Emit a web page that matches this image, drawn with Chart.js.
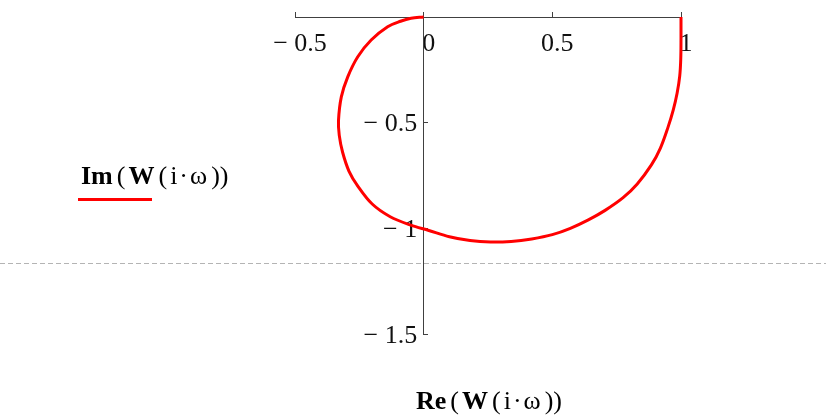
<!DOCTYPE html>
<html>
<head>
<meta charset="utf-8">
<script src="https://cdn.jsdelivr.net/npm/chart.js@4"></script>
<style>
  html, body { margin: 0; padding: 0; background: #fff; }
  #wrap { position: relative; width: 826px; height: 418px; }
  canvas { position: absolute; left: 0; top: 0; }
  .lbl { position: absolute; font-family: "Liberation Serif", serif; font-size: 26px; line-height: 26px; color: #000; white-space: nowrap; }
  .lbl b { font-weight: bold; }
  .lbl .p { margin: 0 3px 0 4px; }
  .lbl .d { margin: 0 2px; }
  #legline { position: absolute; left: 78px; top: 198px; width: 74px; height: 3px; background: #ff0000; }
</style>
</head>
<body>
<div id="wrap">
  <canvas id="c" width="826" height="418"></canvas>
  <div class="lbl" id="ylab" style="left:81px; top:163px;"><b>Im</b><span class="p">(</span><b>W</b><span class="p">(</span>i<span class="d">·</span>ω<span class="p">))</span></div>
  <div id="legline"></div>
  <div class="lbl" id="xlab" style="left:416px; top:388px;"><b>Re</b><span class="p">(</span><b>W</b><span class="p">(</span>i<span class="d">·</span>ω<span class="p">))</span></div>
</div>
<script>
// Re(W(iω)) and Im(W(iω)), from ω = 0 (point 1) to ω → ∞ (origin)
const reW = [1.0, 1.0, 0.999, 0.995, 0.985, 0.97, 0.95, 0.92, 0.885, 0.83, 0.775, 0.705, 0.64, 0.57, 0.50, 0.42, 0.34, 0.26, 0.18, 0.10, 0.02, -0.05, -0.13, -0.20, -0.256, -0.29, -0.315, -0.328, -0.331, -0.32, -0.295, -0.256, -0.204, -0.14, -0.09, -0.049, 0];
const imW = [0, -0.10, -0.20, -0.28, -0.36, -0.44, -0.52, -0.62, -0.70, -0.79, -0.855, -0.915, -0.96, -1.0, -1.03, -1.05, -1.062, -1.065, -1.058, -1.04, -1.01, -0.985, -0.945, -0.885, -0.80, -0.73, -0.64, -0.56, -0.49, -0.378, -0.283, -0.188, -0.109, -0.046, -0.02, -0.006, 0];
const xTicks = [-0.5, 0, 0.5, 1];
const yTicks = [-1.5, -1, -0.5];
const seriesName = 'Im(W(i·ω))';

const points = reW.map((x, i) => ({ x: x, y: imW[i] }));

function fmt(v) {
  if (v < 0) return '\u2212 ' + String(Math.abs(v));
  return String(v);
}

const dashPlugin = {
  id: 'regionLine',
  beforeDraw(chart) {
    const ctx = chart.ctx;
    ctx.save();
    ctx.strokeStyle = '#b4b4b4';
    ctx.lineWidth = 1;
    ctx.setLineDash([5, 3]);
    ctx.beginPath();
    ctx.moveTo(0, 263.5);
    ctx.lineTo(826, 263.5);
    ctx.stroke();
    ctx.restore();
  }
};

function noPad(s) { s.paddingTop = 0; s.paddingBottom = 0; s.paddingLeft = 0; s.paddingRight = 0; }

new Chart(document.getElementById('c'), {
  type: 'scatter',
  data: {
    datasets: [{
      label: seriesName,
      data: points,
      showLine: true,
      borderColor: '#ff0000',
      borderWidth: 3,
      pointRadius: 0,
      tension: 0.35,
      clip: false
    }]
  },
  options: {
    responsive: false,
    animation: false,
    layout: { padding: { left: 295, right: 145, top: 17, bottom: 84 } },
    plugins: { legend: { display: false }, tooltip: { enabled: false } },
    scales: {
      x: {
        type: 'linear',
        min: -0.5, max: 1,
        position: { y: 0 },
        afterBuildTicks(s) { s.ticks = xTicks.map(v => ({ value: v })); },
        afterFit: noPad,
        ticks: {
          callback: v => fmt(v),
          font: { family: 'Liberation Serif', size: 26 },
          color: '#111',
          padding: 18,
          labelOffset: 5,
          maxRotation: 0,
          autoSkip: false
        },
        grid: { drawOnChartArea: false, drawTicks: true, tickLength: -6, color: '#404040', lineWidth: 1 },
        border: { display: true, color: '#404040', width: 1 }
      },
      y: {
        type: 'linear',
        min: -1.5, max: 0,
        position: { x: 0 },
        afterBuildTicks(s) { s.ticks = yTicks.map(v => ({ value: v })); },
        afterFit: noPad,
        ticks: {
          callback: v => fmt(v) + ' ',
          font: { family: 'Liberation Serif', size: 26 },
          color: '#111',
          padding: 17,
          labelOffset: 2,
          autoSkip: false
        },
        grid: { drawOnChartArea: false, drawTicks: true, tickLength: -5, color: '#404040', lineWidth: 1 },
        border: { display: true, color: '#404040', width: 1 }
      }
    }
  },
  plugins: [dashPlugin]
});
</script>
</body>
</html>
